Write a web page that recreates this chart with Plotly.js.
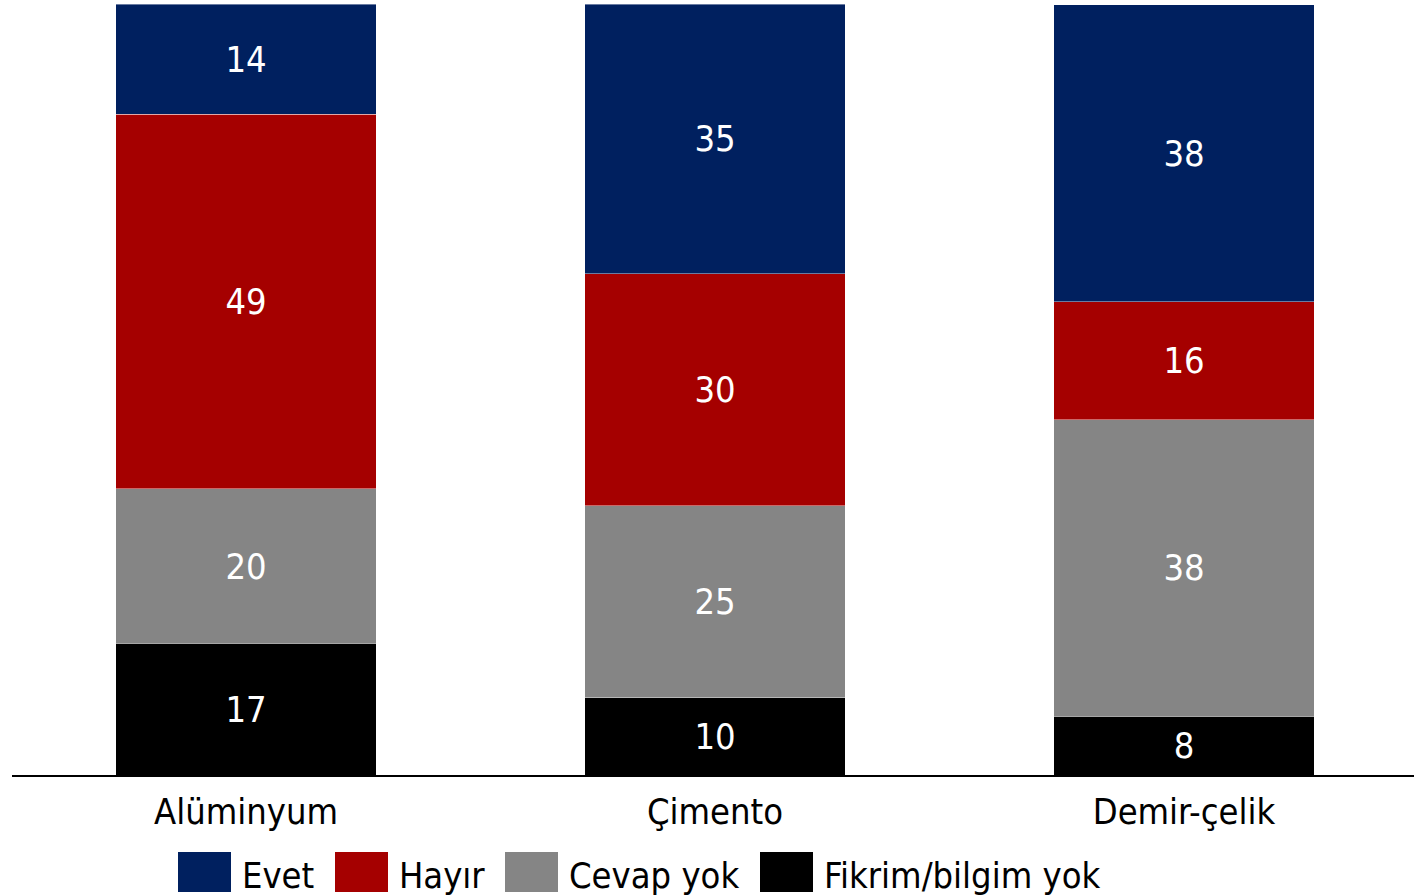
<!DOCTYPE html>
<html>
<head>
<meta charset="utf-8">
<script src="https://cdn.plot.ly/plotly-3.0.1.min.js"></script>
<style>html,body{margin:0;padding:0;background:#fff;}#chart{width:1414px;height:896px;}</style>
</head>
<body>
<div id="chart"></div>
<script>
const categories = ["Alüminyum", "Çimento", "Demir-çelik"];
const seriesNames = ["Evet", "Hayır", "Cevap yok", "Fikrim/bilgim yok"];
// segment heights
const evet = [14.3, 35.0, 38.5];
const hayir = [48.6, 30.1, 15.3];
const cevapYok = [20.0, 24.9, 38.5];
const fikrimYok = [17.1, 10.0, 7.6];
// printed labels
const evetLabels = ["14", "35", "38"];
const hayirLabels = ["49", "30", "16"];
const cevapYokLabels = ["20", "25", "38"];
const fikrimYokLabels = ["17", "10", "8"];
const colors = ["#00205F", "#A50000", "#858585", "#000000"];

const FONT = "'DejaVu Sans Condensed', 'Liberation Sans', Arial, sans-serif";
const W = 1414, H = 896;
const M = {l: 12, r: 0, t: 4, b: 121};
const pw = W - M.l - M.r, ph = H - M.t - M.b;
const px2x = p => (p - M.l) / pw;
const px2y = p => (H - M.b - p) / ph;

function barTrace(name, vals, labels, color) {
  return {
    type: "bar", name: name, x: categories, y: vals,
    width: 0.555,
    marker: {color: color, line: {width: 0.75, color: "rgba(255,255,255,0.55)"}},
    text: labels, textposition: "inside", insidetextanchor: "middle",
    textangle: 0, constraintext: "none",
    textfont: {family: FONT, size: 36, color: "#ffffff"},
    hoverinfo: "x+y+name", showlegend: false
  };
}

const traces = [
  barTrace(seriesNames[3], fikrimYok, fikrimYokLabels, colors[3]),
  barTrace(seriesNames[2], cevapYok, cevapYokLabels, colors[2]),
  barTrace(seriesNames[1], hayir, hayirLabels, colors[1]),
  barTrace(seriesNames[0], evet, evetLabels, colors[0])
];

// custom legend (large square swatches)
const legendItems = [
  {name: seriesNames[0], color: colors[0], sx: 178},
  {name: seriesNames[1], color: colors[1], sx: 335},
  {name: seriesNames[2], color: colors[2], sx: 505},
  {name: seriesNames[3], color: colors[3], sx: 760}
];
const shapes = [], annotations = [];
legendItems.forEach(it => {
  shapes.push({type: "rect", xref: "paper", yref: "paper",
    x0: px2x(it.sx), x1: px2x(it.sx + 53), y0: px2y(892), y1: px2y(852),
    fillcolor: it.color, line: {width: 0}});
  annotations.push({xref: "paper", yref: "paper", x: px2x(it.sx + 62), y: px2y(875),
    xanchor: "left", yanchor: "middle", text: it.name, showarrow: false,
    font: {family: FONT, size: 36, color: "#000"}});
});

// map category index 0 -> px 246, index 2 -> px 1184
const unit = (1184 - 246) / 2;
const xmin = -(246 - M.l) / unit;
const xmax = xmin + pw / unit;

const layout = {
  width: W, height: H, margin: M,
  paper_bgcolor: "#fff", plot_bgcolor: "#fff",
  barmode: "stack", showlegend: false,
  font: {family: FONT, size: 36, color: "#000"},
  xaxis: {type: "category", range: [xmin, xmax], showline: true, linecolor: "#000", linewidth: 2,
    ticks: "", showgrid: false, zeroline: false, ticklabelstandoff: 4,
    tickfont: {family: FONT, size: 36, color: "#000"}, fixedrange: true},
  yaxis: {range: [0, 100], visible: false, showgrid: false, zeroline: false, fixedrange: true},
  shapes: shapes, annotations: annotations
};

Plotly.newPlot("chart", traces, layout, {displayModeBar: false, staticPlot: true});
</script>
</body>
</html>
